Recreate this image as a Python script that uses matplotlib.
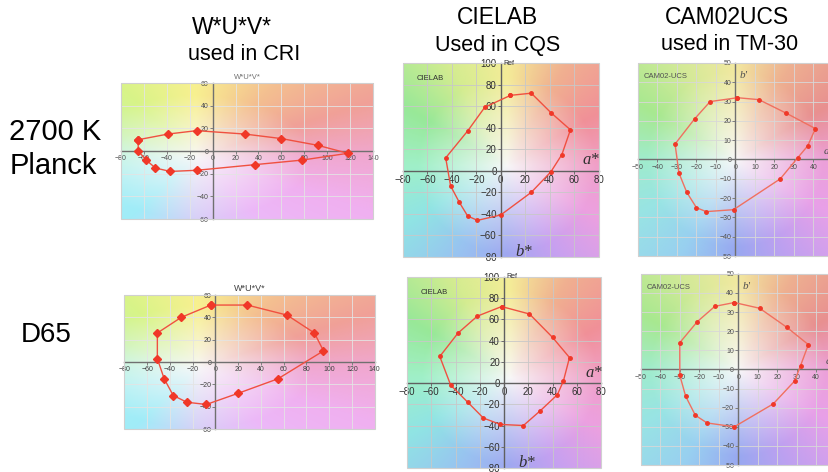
import numpy as np
import matplotlib
matplotlib.use('Agg')
import matplotlib.pyplot as plt
from matplotlib.colors import to_rgb
from matplotlib.patches import Rectangle

plt.rcParams['font.family'] = ['Liberation Sans', 'DejaVu Sans']

# W*U*V* (used in CRI)
wuv_2700_u = [-65, -39, -14, 28, 60, 92, 118, 78, 37, -14, -37, -50, -58, -65]
wuv_2700_v = [10, 15, 18, 15, 11, 5, -2, -8, -12, -17, -18, -15, -8, 0]
wuv_d65_u = [-4, 28, 63, 87, 95, 55, 20, -8, -25, -37, -45, -51, -51, -30]
wuv_d65_v = [51, 51, 42, 26, 10, -15, -28, -38, -36, -30, -15, 3, 26, 40]

# CIELAB (used in CQS)
lab_2700_a = [8, 25, 41, 57, 50, 41, 25, 0, -19, -27, -34, -41, -45, -27, -13]
lab_2700_b = [70, 72, 54, 38, 15, -1, -20, -41, -46, -42, -29, -14, 12, 37, 59]
lab_d65_a = [-2, 21, 40, 54, 49, 44, 30, 16, -3, -17, -30, -44, -53, -38, -22]
lab_d65_b = [72, 65, 43, 24, 2, -11, -26, -40, -39, -33, -18, -2, 25, 47, 63]

# CAM02-UCS (used in TM-30)
cam_2700_a = [1, 12, 26, 41, 37, 32, 23, -1, -15, -20, -25, -29, -31, -21, -13]
cam_2700_b = [32, 31, 24, 16, 7, 1, -10, -26, -27, -25, -17, -7, 8, 21, 30]
cam_d65_a = [-2, 11, 25, 36, 32, 29, 18, -2, -16, -22, -27, -30, -30, -21, -12]
cam_d65_b = [35, 32, 22, 13, 2, -6, -18, -30, -28, -24, -14, -3, 14, 25, 33]

# background hue wheel, one colour every 30 degrees starting at +x
hue_deg = [0, 30, 60, 90, 120, 150, 180, 210, 240, 270, 300, 330]
wuv_hues = ['#f0a8d0', '#f0a098', '#f4c090', '#f8f090', '#d8f488', '#c8f4a8',
            '#b8f4e0', '#a8f0f4', '#a0ecf8', '#d8d0f8', '#ecb8f8', '#f0b0f0']
lab_hues = ['#f0a0c8', '#f09098', '#f0b090', '#f4ec98', '#d4ec90', '#98e898',
            '#a0f0c8', '#90e4e4', '#98c4f0', '#a0a8f0', '#c8a0f0', '#eca0e0']
cam_hues = ['#eca0d8', '#e89090', '#eeb090', '#f2e8a0', '#d4ea98', '#a8e890',
            '#a0eccc', '#98e4e4', '#98d0f0', '#98a8f0', '#c0a0f0', '#e8a0e8']


def background(ax, xlim, ylim, center, hues, power=0.9, gain=1.1):
    xs = np.linspace(xlim[0], xlim[1], 240)
    ys = np.linspace(ylim[0], ylim[1], 240)
    X, Y = np.meshgrid(xs, ys)
    u = (X - center[0]) / ((xlim[1] - xlim[0]) / 2)
    v = (Y - center[1]) / ((ylim[1] - ylim[0]) / 2)
    ang = np.degrees(np.arctan2(v, u)) % 360
    cols = np.array([to_rgb(c) for c in hues])
    cols = np.vstack([cols, cols[:1]])
    angs = np.array(hue_deg + [360])
    rgb = np.stack([np.interp(ang, angs, cols[:, k]) for k in range(3)], axis=-1)
    w = np.clip(np.hypot(u, v) * gain, 0, 1) ** power
    img = 0.97 - w[..., None] * (0.97 - rgb)
    ax.imshow(img, extent=(xlim[0], xlim[1], ylim[0], ylim[1]), origin='lower',
              aspect='auto', zorder=0, interpolation='bilinear')


def panel(rect, x, y, xlim, ylim, step, hues, center, marker, ms, lc, fs,
          gridc, axc, tickc):
    ax = fig.add_axes(rect)
    background(ax, xlim, ylim, center, hues)
    ax.set_xlim(xlim)
    ax.set_ylim(ylim)
    ax.set_xticks(np.arange(xlim[0], xlim[1] + 1, step[0]))
    ax.set_yticks(np.arange(ylim[0], ylim[1] + 1, step[1]))
    ax.grid(True, color=gridc, lw=0.6, zorder=1)
    for s in ['top', 'right']:
        ax.spines[s].set_visible(False)
    ax.spines['left'].set_position(('data', 0))
    ax.spines['bottom'].set_position(('data', 0))
    for s in ['left', 'bottom']:
        ax.spines[s].set_color(axc)
        ax.spines[s].set_linewidth(1.0)
        ax.spines[s].set_zorder(2)
    ax.tick_params(length=2, width=0.6, color=axc, labelsize=fs,
                   labelcolor=tickc, pad=1)
    ax.add_patch(Rectangle((0, 0), 1, 1, transform=ax.transAxes, fill=False,
                           ec='#d0d0d0', lw=0.8, zorder=3, clip_on=False))
    ax.plot(x + x[:1], y + y[:1], color=lc, lw=1.0, marker=marker, ms=ms,
            mfc='#f03828', mec='#f03828', zorder=4)
    return ax


fig = plt.figure(figsize=(8.29, 4.72), dpi=100)

# W*U*V*
ax1 = panel([0.146, 0.536, 0.304, 0.288], wuv_2700_u, wuv_2700_v, (-80, 140), (-60, 60),
            (20, 20), wuv_hues, (-15, -5), 'D', 4.5, '#f05040', 5, '#e4e4e4', '#707070', '#505050')
ax1.set_title('W*U*V*', fontsize=5.5, color='#707070', pad=3)
ax2 = panel([0.150, 0.091, 0.302, 0.284], wuv_d65_u, wuv_d65_v, (-80, 140), (-60, 60),
            (20, 20), wuv_hues, (-15, -5), 'D', 4.5, '#f05040', 5, '#e4e4e4', '#707070', '#404040')
ax2.set_title('W*U*V*', fontsize=6.5, color='#404040', pad=3)

# CIELAB
for rect, a, b in [([0.486, 0.4555, 0.236, 0.411], lab_2700_a, lab_2700_b),
                   ([0.491, 0.0085, 0.234, 0.405], lab_d65_a, lab_d65_b)]:
    ax = panel(rect, a, b, (-80, 80), (-80, 100), (20, 20), lab_hues, (5, 5),
               'o', 2.5, '#f05040', 7, '#c8c8c8', '#606060', '#303030')
    ax.text(0.07, 0.91, 'CIELAB', transform=ax.transAxes, fontsize=5.5, color='#303030', zorder=5)
    ax.text(2, 100, 'Ref', fontsize=5, color='#303030', va='center', zorder=5)
    ax.text(67, 6, 'a*', fontsize=12, style='italic', family='Liberation Serif',
            color='#303030', zorder=5)
    ax.text(12, -79, 'b*', fontsize=12, style='italic', family='Liberation Serif',
            color='#303030', zorder=5)

# CAM02-UCS (right edge runs off the picture)
for rect, a, b in [([0.7696, 0.4576, 0.2352, 0.409], cam_2700_a, cam_2700_b),
                   ([0.773, 0.0148, 0.235, 0.405], cam_d65_a, cam_d65_b)]:
    ax = panel(rect, a, b, (-50, 50), (-50, 50), (10, 10), cam_hues, (0, 0),
               'o', 2.5, '#f07060', 5, '#d8d8d8', '#707070', '#505050')
    ax.text(0.03, 0.92, 'CAM02-UCS', transform=ax.transAxes, fontsize=5.5, color='#505050', zorder=5)
    ax.text(2, 42, "b'", fontsize=8, style='italic', family='Liberation Serif',
            color='#505050', zorder=5)
    ax.text(45, 3, "a'", fontsize=8, style='italic', family='Liberation Serif',
            color='#505050', zorder=5)

# column and row headings
fig.text(232 / 829, 1 - 28 / 472, 'W*U*V*', fontsize=16.5, ha='center', va='center')
fig.text(244 / 829, 1 - 54 / 472, 'used in CRI', fontsize=15.5, ha='center', va='center')
fig.text(498 / 829, 1 - 18 / 472, 'CIELAB', fontsize=16.5, ha='center', va='center')
fig.text(498 / 829, 1 - 45 / 472, 'Used in CQS', fontsize=15.5, ha='center', va='center')
fig.text(727 / 829, 1 - 18 / 472, 'CAM02UCS', fontsize=16.5, ha='center', va='center')
fig.text(730 / 829, 1 - 45 / 472, 'used in TM-30', fontsize=15.5, ha='center', va='center')
fig.text(9 / 829, 1 - 132 / 472, '2700 K', fontsize=21, ha='left', va='center')
fig.text(10 / 829, 1 - 166 / 472, 'Planck', fontsize=21, ha='left', va='center')
fig.text(21 / 829, 1 - 335 / 472, 'D65', fontsize=20, ha='left', va='center')

fig.savefig('out.png', dpi=100)
